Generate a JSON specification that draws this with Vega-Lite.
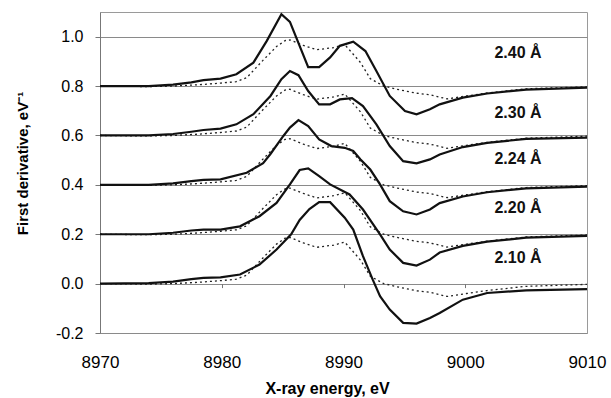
{
  "$schema": "https://vega.github.io/schema/vega-lite/v6.json",
  "width": 487,
  "height": 321,
  "autosize": {"type": "none"},
  "padding": {"left": 100, "top": 12, "right": 24, "bottom": 65},
  "background": "white",
  "config": {
    "view": {"stroke": "#9a9a9a", "strokeWidth": 1},
    "font": "Liberation Sans",
    "axis": {"labelFont": "Liberation Sans", "titleFont": "Liberation Sans"}
  },
  "datasets": {
    "curves": [
      {"s":"2.40","k":"exp","e":8970,"v":0.8},{"s":"2.40","k":"exp","e":8974,"v":0.8},{"s":"2.40","k":"exp","e":8976,"v":0.806},{"s":"2.40","k":"exp","e":8977.5,"v":0.815},{"s":"2.40","k":"exp","e":8978.5,"v":0.824},{"s":"2.40","k":"exp","e":8979.9,"v":0.83},{"s":"2.40","k":"exp","e":8981.2,"v":0.848},{"s":"2.40","k":"exp","e":8982.6,"v":0.895},{"s":"2.40","k":"exp","e":8983.7,"v":0.983},{"s":"2.40","k":"exp","e":8984.9,"v":1.091},{"s":"2.40","k":"exp","e":8985.6,"v":1.06},{"s":"2.40","k":"exp","e":8987.1,"v":0.877},{"s":"2.40","k":"exp","e":8988.0,"v":0.877},{"s":"2.40","k":"exp","e":8988.9,"v":0.916},{"s":"2.40","k":"exp","e":8989.7,"v":0.963},{"s":"2.40","k":"exp","e":8990.8,"v":0.98},{"s":"2.40","k":"exp","e":8991.8,"v":0.942},{"s":"2.40","k":"exp","e":8992.7,"v":0.861},{"s":"2.40","k":"exp","e":8993.8,"v":0.76},{"s":"2.40","k":"exp","e":8995.05,"v":0.699},{"s":"2.40","k":"exp","e":8996.0,"v":0.686},{"s":"2.40","k":"exp","e":8997.1,"v":0.706},{"s":"2.40","k":"exp","e":8997.9,"v":0.726},{"s":"2.40","k":"exp","e":8999.8,"v":0.753},{"s":"2.40","k":"exp","e":9001.8,"v":0.77},{"s":"2.40","k":"exp","e":9005,"v":0.786},{"s":"2.40","k":"exp","e":9010,"v":0.794},

      {"s":"2.30","k":"exp","e":8970,"v":0.6},{"s":"2.30","k":"exp","e":8974,"v":0.6},{"s":"2.30","k":"exp","e":8976,"v":0.606},{"s":"2.30","k":"exp","e":8977.5,"v":0.615},{"s":"2.30","k":"exp","e":8978.5,"v":0.622},{"s":"2.30","k":"exp","e":8979.9,"v":0.628},{"s":"2.30","k":"exp","e":8981.2,"v":0.645},{"s":"2.30","k":"exp","e":8982.6,"v":0.686},{"s":"2.30","k":"exp","e":8984.0,"v":0.76},{"s":"2.30","k":"exp","e":8984.9,"v":0.828},{"s":"2.30","k":"exp","e":8985.6,"v":0.861},{"s":"2.30","k":"exp","e":8986.3,"v":0.844},{"s":"2.30","k":"exp","e":8987.1,"v":0.78},{"s":"2.30","k":"exp","e":8988.0,"v":0.726},{"s":"2.30","k":"exp","e":8988.9,"v":0.726},{"s":"2.30","k":"exp","e":8989.7,"v":0.746},{"s":"2.30","k":"exp","e":8990.7,"v":0.751},{"s":"2.30","k":"exp","e":8991.6,"v":0.719},{"s":"2.30","k":"exp","e":8992.7,"v":0.645},{"s":"2.30","k":"exp","e":8993.8,"v":0.557},{"s":"2.30","k":"exp","e":8994.9,"v":0.496},{"s":"2.30","k":"exp","e":8996.0,"v":0.487},{"s":"2.30","k":"exp","e":8997.1,"v":0.503},{"s":"2.30","k":"exp","e":8997.9,"v":0.523},{"s":"2.30","k":"exp","e":8999.8,"v":0.553},{"s":"2.30","k":"exp","e":9001.8,"v":0.57},{"s":"2.30","k":"exp","e":9005,"v":0.586},{"s":"2.30","k":"exp","e":9010,"v":0.591},

      {"s":"2.24","k":"exp","e":8970,"v":0.4},{"s":"2.24","k":"exp","e":8974,"v":0.4},{"s":"2.24","k":"exp","e":8976,"v":0.406},{"s":"2.24","k":"exp","e":8977.5,"v":0.415},{"s":"2.24","k":"exp","e":8978.5,"v":0.42},{"s":"2.24","k":"exp","e":8979.9,"v":0.422},{"s":"2.24","k":"exp","e":8982.05,"v":0.449},{"s":"2.24","k":"exp","e":8983.4,"v":0.488},{"s":"2.24","k":"exp","e":8984.0,"v":0.525},{"s":"2.24","k":"exp","e":8985.06,"v":0.598},{"s":"2.24","k":"exp","e":8985.6,"v":0.632},{"s":"2.24","k":"exp","e":8986.3,"v":0.662},{"s":"2.24","k":"exp","e":8987.1,"v":0.638},{"s":"2.24","k":"exp","e":8988.0,"v":0.584},{"s":"2.24","k":"exp","e":8989.0,"v":0.557},{"s":"2.24","k":"exp","e":8990.1,"v":0.55},{"s":"2.24","k":"exp","e":8990.8,"v":0.537},{"s":"2.24","k":"exp","e":8991.4,"v":0.503},{"s":"2.24","k":"exp","e":8992.2,"v":0.462},{"s":"2.24","k":"exp","e":8993.0,"v":0.402},{"s":"2.24","k":"exp","e":8993.8,"v":0.334},{"s":"2.24","k":"exp","e":8994.9,"v":0.293},{"s":"2.24","k":"exp","e":8996.0,"v":0.28},{"s":"2.24","k":"exp","e":8997.1,"v":0.3},{"s":"2.24","k":"exp","e":8997.9,"v":0.326},{"s":"2.24","k":"exp","e":8999.8,"v":0.353},{"s":"2.24","k":"exp","e":9001.8,"v":0.37},{"s":"2.24","k":"exp","e":9005,"v":0.386},{"s":"2.24","k":"exp","e":9010,"v":0.393},

      {"s":"2.20","k":"exp","e":8970,"v":0.2},{"s":"2.20","k":"exp","e":8974,"v":0.2},{"s":"2.20","k":"exp","e":8976,"v":0.206},{"s":"2.20","k":"exp","e":8977.5,"v":0.215},{"s":"2.20","k":"exp","e":8978.5,"v":0.219},{"s":"2.20","k":"exp","e":8979.9,"v":0.219},{"s":"2.20","k":"exp","e":8981.5,"v":0.232},{"s":"2.20","k":"exp","e":8983.1,"v":0.273},{"s":"2.20","k":"exp","e":8984.5,"v":0.327},{"s":"2.20","k":"exp","e":8985.6,"v":0.402},{"s":"2.20","k":"exp","e":8986.4,"v":0.46},{"s":"2.20","k":"exp","e":8987.1,"v":0.467},{"s":"2.20","k":"exp","e":8988.0,"v":0.435},{"s":"2.20","k":"exp","e":8988.9,"v":0.402},{"s":"2.20","k":"exp","e":8990.5,"v":0.361},{"s":"2.20","k":"exp","e":8991.6,"v":0.3},{"s":"2.20","k":"exp","e":8993.0,"v":0.199},{"s":"2.20","k":"exp","e":8993.8,"v":0.138},{"s":"2.20","k":"exp","e":8994.9,"v":0.084},{"s":"2.20","k":"exp","e":8996.0,"v":0.073},{"s":"2.20","k":"exp","e":8997.1,"v":0.097},{"s":"2.20","k":"exp","e":8997.9,"v":0.126},{"s":"2.20","k":"exp","e":8999.8,"v":0.153},{"s":"2.20","k":"exp","e":9001.8,"v":0.17},{"s":"2.20","k":"exp","e":9005,"v":0.186},{"s":"2.20","k":"exp","e":9010,"v":0.193},

      {"s":"2.10","k":"exp","e":8970,"v":0.0},{"s":"2.10","k":"exp","e":8974,"v":0.002},{"s":"2.10","k":"exp","e":8976,"v":0.008},{"s":"2.10","k":"exp","e":8977.5,"v":0.018},{"s":"2.10","k":"exp","e":8978.5,"v":0.023},{"s":"2.10","k":"exp","e":8979.9,"v":0.025},{"s":"2.10","k":"exp","e":8981.5,"v":0.037},{"s":"2.10","k":"exp","e":8983.1,"v":0.077},{"s":"2.10","k":"exp","e":8984.5,"v":0.138},{"s":"2.10","k":"exp","e":8985.7,"v":0.2},{"s":"2.10","k":"exp","e":8986.4,"v":0.258},{"s":"2.10","k":"exp","e":8987.2,"v":0.302},{"s":"2.10","k":"exp","e":8988.0,"v":0.33},{"s":"2.10","k":"exp","e":8988.9,"v":0.33},{"s":"2.10","k":"exp","e":8990.1,"v":0.267},{"s":"2.10","k":"exp","e":8990.8,"v":0.219},{"s":"2.10","k":"exp","e":8991.6,"v":0.111},{"s":"2.10","k":"exp","e":8992.4,"v":0.016},{"s":"2.10","k":"exp","e":8993.0,"v":-0.051},{"s":"2.10","k":"exp","e":8993.8,"v":-0.105},{"s":"2.10","k":"exp","e":8994.9,"v":-0.159},{"s":"2.10","k":"exp","e":8996.0,"v":-0.162},{"s":"2.10","k":"exp","e":8997.1,"v":-0.139},{"s":"2.10","k":"exp","e":8997.9,"v":-0.119},{"s":"2.10","k":"exp","e":8999.8,"v":-0.065},{"s":"2.10","k":"exp","e":9001.8,"v":-0.038},{"s":"2.10","k":"exp","e":9005,"v":-0.027},{"s":"2.10","k":"exp","e":9010,"v":-0.022},

      {"s":"2.40","k":"ref","e":8970,"v":0.8},{"s":"2.40","k":"ref","e":8974,"v":0.798},{"s":"2.40","k":"ref","e":8976,"v":0.8},{"s":"2.40","k":"ref","e":8978,"v":0.805},{"s":"2.40","k":"ref","e":8979.9,"v":0.812},{"s":"2.40","k":"ref","e":8981.2,"v":0.818},{"s":"2.40","k":"ref","e":8982.05,"v":0.834},{"s":"2.40","k":"ref","e":8983.4,"v":0.905},{"s":"2.40","k":"ref","e":8984.0,"v":0.935},{"s":"2.40","k":"ref","e":8984.5,"v":0.96},{"s":"2.40","k":"ref","e":8985.2,"v":0.984},{"s":"2.40","k":"ref","e":8985.6,"v":0.987},{"s":"2.40","k":"ref","e":8986.7,"v":0.965},{"s":"2.40","k":"ref","e":8987.8,"v":0.947},{"s":"2.40","k":"ref","e":8989.2,"v":0.956},{"s":"2.40","k":"ref","e":8990.1,"v":0.968},{"s":"2.40","k":"ref","e":8990.8,"v":0.929},{"s":"2.40","k":"ref","e":8991.4,"v":0.895},{"s":"2.40","k":"ref","e":8992.2,"v":0.83},{"s":"2.40","k":"ref","e":8993.3,"v":0.8},{"s":"2.40","k":"ref","e":8994.4,"v":0.787},{"s":"2.40","k":"ref","e":8996.0,"v":0.771},{"s":"2.40","k":"ref","e":8997.1,"v":0.765},{"s":"2.40","k":"ref","e":8998.5,"v":0.748},{"s":"2.40","k":"ref","e":9000.1,"v":0.76},{"s":"2.40","k":"ref","e":9001.8,"v":0.772},{"s":"2.40","k":"ref","e":9005,"v":0.789},{"s":"2.40","k":"ref","e":9010,"v":0.797},

      {"s":"2.30","k":"ref","e":8970,"v":0.6},{"s":"2.30","k":"ref","e":8974,"v":0.598},{"s":"2.30","k":"ref","e":8976,"v":0.6},{"s":"2.30","k":"ref","e":8978,"v":0.605},{"s":"2.30","k":"ref","e":8979.9,"v":0.612},{"s":"2.30","k":"ref","e":8981.2,"v":0.618},{"s":"2.30","k":"ref","e":8982.05,"v":0.634},{"s":"2.30","k":"ref","e":8983.4,"v":0.705},{"s":"2.30","k":"ref","e":8984.0,"v":0.735},{"s":"2.30","k":"ref","e":8984.5,"v":0.76},{"s":"2.30","k":"ref","e":8985.2,"v":0.784},{"s":"2.30","k":"ref","e":8985.6,"v":0.787},{"s":"2.30","k":"ref","e":8986.7,"v":0.765},{"s":"2.30","k":"ref","e":8987.8,"v":0.747},{"s":"2.30","k":"ref","e":8989.2,"v":0.756},{"s":"2.30","k":"ref","e":8990.1,"v":0.768},{"s":"2.30","k":"ref","e":8990.8,"v":0.729},{"s":"2.30","k":"ref","e":8991.4,"v":0.695},{"s":"2.30","k":"ref","e":8992.2,"v":0.63},{"s":"2.30","k":"ref","e":8993.3,"v":0.6},{"s":"2.30","k":"ref","e":8994.4,"v":0.587},{"s":"2.30","k":"ref","e":8996.0,"v":0.571},{"s":"2.30","k":"ref","e":8997.1,"v":0.565},{"s":"2.30","k":"ref","e":8998.5,"v":0.548},{"s":"2.30","k":"ref","e":9000.1,"v":0.56},{"s":"2.30","k":"ref","e":9001.8,"v":0.572},{"s":"2.30","k":"ref","e":9005,"v":0.589},{"s":"2.30","k":"ref","e":9010,"v":0.597},

      {"s":"2.24","k":"ref","e":8970,"v":0.4},{"s":"2.24","k":"ref","e":8974,"v":0.398},{"s":"2.24","k":"ref","e":8976,"v":0.4},{"s":"2.24","k":"ref","e":8978,"v":0.405},{"s":"2.24","k":"ref","e":8979.9,"v":0.412},{"s":"2.24","k":"ref","e":8981.2,"v":0.418},{"s":"2.24","k":"ref","e":8982.05,"v":0.434},{"s":"2.24","k":"ref","e":8983.4,"v":0.505},{"s":"2.24","k":"ref","e":8984.0,"v":0.535},{"s":"2.24","k":"ref","e":8984.5,"v":0.56},{"s":"2.24","k":"ref","e":8985.2,"v":0.584},{"s":"2.24","k":"ref","e":8985.6,"v":0.587},{"s":"2.24","k":"ref","e":8986.7,"v":0.565},{"s":"2.24","k":"ref","e":8987.8,"v":0.547},{"s":"2.24","k":"ref","e":8989.2,"v":0.556},{"s":"2.24","k":"ref","e":8990.1,"v":0.568},{"s":"2.24","k":"ref","e":8990.8,"v":0.529},{"s":"2.24","k":"ref","e":8991.4,"v":0.495},{"s":"2.24","k":"ref","e":8992.2,"v":0.43},{"s":"2.24","k":"ref","e":8993.3,"v":0.4},{"s":"2.24","k":"ref","e":8994.4,"v":0.387},{"s":"2.24","k":"ref","e":8996.0,"v":0.371},{"s":"2.24","k":"ref","e":8997.1,"v":0.365},{"s":"2.24","k":"ref","e":8998.5,"v":0.348},{"s":"2.24","k":"ref","e":9000.1,"v":0.36},{"s":"2.24","k":"ref","e":9001.8,"v":0.372},{"s":"2.24","k":"ref","e":9005,"v":0.389},{"s":"2.24","k":"ref","e":9010,"v":0.397},

      {"s":"2.20","k":"ref","e":8970,"v":0.2},{"s":"2.20","k":"ref","e":8974,"v":0.198},{"s":"2.20","k":"ref","e":8976,"v":0.2},{"s":"2.20","k":"ref","e":8978,"v":0.205},{"s":"2.20","k":"ref","e":8979.9,"v":0.212},{"s":"2.20","k":"ref","e":8981.2,"v":0.218},{"s":"2.20","k":"ref","e":8982.05,"v":0.234},{"s":"2.20","k":"ref","e":8983.4,"v":0.305},{"s":"2.20","k":"ref","e":8984.0,"v":0.335},{"s":"2.20","k":"ref","e":8984.5,"v":0.36},{"s":"2.20","k":"ref","e":8985.2,"v":0.384},{"s":"2.20","k":"ref","e":8985.6,"v":0.387},{"s":"2.20","k":"ref","e":8986.7,"v":0.365},{"s":"2.20","k":"ref","e":8987.8,"v":0.347},{"s":"2.20","k":"ref","e":8989.2,"v":0.356},{"s":"2.20","k":"ref","e":8990.1,"v":0.368},{"s":"2.20","k":"ref","e":8990.8,"v":0.329},{"s":"2.20","k":"ref","e":8991.4,"v":0.295},{"s":"2.20","k":"ref","e":8992.2,"v":0.23},{"s":"2.20","k":"ref","e":8993.3,"v":0.2},{"s":"2.20","k":"ref","e":8994.4,"v":0.187},{"s":"2.20","k":"ref","e":8996.0,"v":0.171},{"s":"2.20","k":"ref","e":8997.1,"v":0.165},{"s":"2.20","k":"ref","e":8998.5,"v":0.148},{"s":"2.20","k":"ref","e":9000.1,"v":0.16},{"s":"2.20","k":"ref","e":9001.8,"v":0.172},{"s":"2.20","k":"ref","e":9005,"v":0.189},{"s":"2.20","k":"ref","e":9010,"v":0.197},

      {"s":"2.10","k":"ref","e":8970,"v":0.0},{"s":"2.10","k":"ref","e":8974,"v":-0.002},{"s":"2.10","k":"ref","e":8976,"v":0.0},{"s":"2.10","k":"ref","e":8978,"v":0.005},{"s":"2.10","k":"ref","e":8979.9,"v":0.012},{"s":"2.10","k":"ref","e":8981.2,"v":0.018},{"s":"2.10","k":"ref","e":8982.05,"v":0.034},{"s":"2.10","k":"ref","e":8983.4,"v":0.105},{"s":"2.10","k":"ref","e":8984.0,"v":0.135},{"s":"2.10","k":"ref","e":8984.5,"v":0.16},{"s":"2.10","k":"ref","e":8985.2,"v":0.184},{"s":"2.10","k":"ref","e":8985.6,"v":0.187},{"s":"2.10","k":"ref","e":8986.7,"v":0.165},{"s":"2.10","k":"ref","e":8987.8,"v":0.147},{"s":"2.10","k":"ref","e":8989.2,"v":0.156},{"s":"2.10","k":"ref","e":8990.1,"v":0.168},{"s":"2.10","k":"ref","e":8990.8,"v":0.129},{"s":"2.10","k":"ref","e":8991.4,"v":0.095},{"s":"2.10","k":"ref","e":8992.2,"v":0.03},{"s":"2.10","k":"ref","e":8993.3,"v":0.0},{"s":"2.10","k":"ref","e":8994.4,"v":-0.013},{"s":"2.10","k":"ref","e":8996.0,"v":-0.029},{"s":"2.10","k":"ref","e":8997.1,"v":-0.035},{"s":"2.10","k":"ref","e":8998.5,"v":-0.052},{"s":"2.10","k":"ref","e":9000.1,"v":-0.04},{"s":"2.10","k":"ref","e":9001.8,"v":-0.028},{"s":"2.10","k":"ref","e":9005,"v":-0.011},{"s":"2.10","k":"ref","e":9010,"v":-0.003}
    ],
    "labels": [
      {"t": "2.40 Å", "e": 9002.4, "v": 0.933},
      {"t": "2.30 Å", "e": 9002.4, "v": 0.692},
      {"t": "2.24 Å", "e": 9002.4, "v": 0.503},
      {"t": "2.20 Å", "e": 9002.4, "v": 0.307},
      {"t": "2.10 Å", "e": 9002.4, "v": 0.104}
    ],
    "edge": [{"e": 8970}]
  },
  "resolve": {"axis": {"x": "independent"}},
  "layer": [
    {
      "data": {"name": "curves"},
      "transform": [{"filter": "datum.k == 'ref'"}],
      "mark": {"type": "line", "color": "#222", "strokeWidth": 1.3, "strokeDash": [2, 3]},
      "encoding": {
        "x": {"field": "e", "type": "quantitative", "scale": {"domain": [8970, 9010], "nice": false, "zero": false},
          "axis": {"orient": "bottom", "values": [8970, 8980, 8990, 9000, 9010], "format": "d", "grid": false, "domain": false, "ticks": false,
            "labelFontSize": 17, "labelColor": "#000", "labelPadding": 21, "labelBaseline": "top", "labelFlush": false,
            "title": "X-ray energy, eV", "titleFontSize": 16, "titleFontWeight": "bold", "titleColor": "#000",
            "titleX": 227, "titleY": 60, "titleAnchor": null, "titleAlign": "center", "titleBaseline": "alphabetic"}},
        "y": {"field": "v", "type": "quantitative", "scale": {"domain": [-0.2, 1.1], "nice": false, "zero": false},
          "axis": {"values": [-0.2, 0, 0.2, 0.4, 0.6, 0.8, 1.0], "labelExpr": "replace(format(datum.value, '.1f'), '\u2212', '-')",
            "grid": true, "gridColor": "#8a8a8a", "gridWidth": 1, "gridOpacity": 1,
            "domain": true, "domainColor": "#777", "ticks": true, "tickSize": 5, "tickColor": "#777",
            "labelFontSize": 16, "labelColor": "#000", "labelPadding": 12,
            "title": "First derivative, eV⁻¹", "titleFontSize": 15, "titleFontWeight": "bold", "titleColor": "#000",
            "titleX": -78, "titleY": 151, "titleAngle": 270, "titleAlign": "center", "titleBaseline": "middle", "titleAnchor": null}},
        "detail": {"field": "s"}
      }
    },
    {
      "data": {"name": "curves"},
      "transform": [{"filter": "datum.k == 'exp'"}],
      "mark": {"type": "line", "color": "#111", "strokeWidth": 2.2},
      "encoding": {
        "x": {"field": "e", "type": "quantitative", "axis": null},
        "y": {"field": "v", "type": "quantitative"},
        "detail": {"field": "s"}
      }
    },
    {
      "data": {"name": "labels"},
      "mark": {"type": "text", "align": "left", "baseline": "middle", "fontSize": 16, "fontWeight": "bold", "color": "#111", "font": "Liberation Sans"},
      "encoding": {
        "x": {"field": "e", "type": "quantitative", "axis": null},
        "y": {"field": "v", "type": "quantitative"},
        "text": {"field": "t"}
      }
    },
    {
      "data": {"name": "edge"},
      "mark": {"type": "rule", "strokeOpacity": 0},
      "encoding": {
        "x": {"field": "e", "type": "quantitative",
          "axis": {"orient": "bottom", "offset": -49.4, "values": [8980, 8990, 9000], "labels": false, "domain": false, "grid": false,
            "ticks": true, "tickSize": 4, "tickColor": "#777", "title": null}}
      }
    }
  ]
}
